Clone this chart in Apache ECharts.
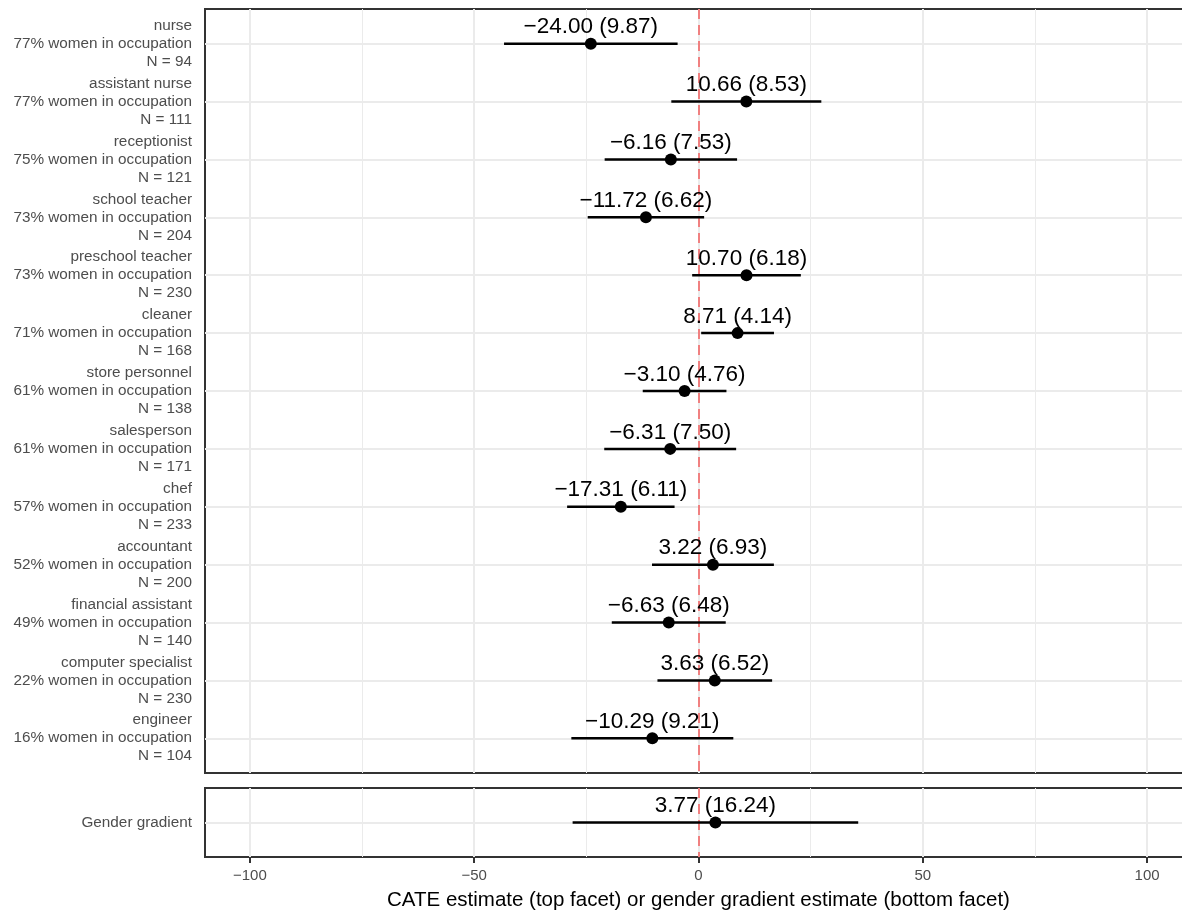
<!DOCTYPE html>
<html>
<head>
<meta charset="utf-8">
<script src="https://cdn.jsdelivr.net/npm/echarts@6/dist/echarts.min.js"></script>
<style>
  html, body { margin: 0; padding: 0; background: #ffffff; }
  #chart { width: 1182px; height: 914px; }
</style>
</head>
<body>
<div id="chart"></div>
<script>
// Occupation-level CATE estimates with standard errors (top facet)
const occupations = [
  'nurse', 'assistant nurse', 'receptionist', 'school teacher', 'preschool teacher',
  'cleaner', 'store personnel', 'salesperson', 'chef', 'accountant',
  'financial assistant', 'computer specialist', 'engineer'
];
const womenShare = [77, 77, 75, 73, 73, 71, 61, 61, 57, 52, 49, 22, 16];
const sampleSizes = [94, 111, 121, 204, 230, 168, 138, 171, 233, 200, 140, 230, 104];
const cateEstimates = [-24.00, 10.66, -6.16, -11.72, 10.70, 8.71, -3.10, -6.31, -17.31, 3.22, -6.63, 3.63, -10.29];
const cateStdErrors = [9.87, 8.53, 7.53, 6.62, 6.18, 4.14, 4.76, 7.50, 6.11, 6.93, 6.48, 6.52, 9.21];

// Gender gradient estimate (bottom facet)
const gradientLabels = ['Gender gradient'];
const gradientEstimates = [3.77];
const gradientStdErrors = [16.24];

// x-axis breaks
const xTickValues = [-100, -50, 0, 50, 100];
const xMinorValues = [-75, -25, 25, 75];
const xTitle = 'CATE estimate (top facet) or gender gradient estimate (bottom facet)';

const Z95 = 1.96;
const FONT = '"Liberation Sans", Arial, Helvetica, sans-serif';
const fmt = v => v.toFixed(2).replace('-', '\u2212');

const topRows = occupations.map((_, i) => i + 1);
const bottomRows = gradientLabels.map((_, i) => i + 1);

function gridLines(rows) {
  const items = [];
  rows.forEach(r => items.push({ yAxis: r, lineStyle: { color: '#EBEBEB', width: 2, type: 'solid' } }));
  xMinorValues.forEach(v => items.push({ xAxis: v, lineStyle: { color: '#EBEBEB', width: 1, type: 'solid' } }));
  xTickValues.forEach(v => items.push({ xAxis: v, lineStyle: { color: '#EBEBEB', width: 2, type: 'solid' } }));
  // reference line at zero
  items.push({ xAxis: 0, lineStyle: { color: '#F08080', width: 2, type: [10, 6] } });
  return items;
}

function panelSeries(gi, estimates, stdErrors, rows) {
  return [
    {
      type: 'line', xAxisIndex: gi, yAxisIndex: gi, data: [], z: 1, silent: true,
      markLine: { z: 1, silent: true, symbol: ['none', 'none'], label: { show: false }, animation: false, data: gridLines(rows) }
    },
    {
      type: 'custom', xAxisIndex: gi, yAxisIndex: gi, z: 3, silent: true,
      data: estimates.map((e, i) => [e - Z95 * stdErrors[i], e + Z95 * stdErrors[i], rows[i]]),
      renderItem: (params, api) => {
        const a = api.coord([api.value(0), api.value(2)]);
        const b = api.coord([api.value(1), api.value(2)]);
        return { type: 'line', shape: { x1: a[0], y1: a[1], x2: b[0], y2: b[1] }, style: { stroke: '#000000', lineWidth: 2.5 } };
      }
    },
    {
      type: 'scatter', xAxisIndex: gi, yAxisIndex: gi, z: 4, silent: true,
      symbol: 'circle', symbolSize: 12, itemStyle: { color: '#000000', opacity: 1 },
      data: estimates.map((e, i) => [e, rows[i]]),
      label: {
        show: true, position: 'top', distance: -1,
        fontFamily: FONT, fontSize: 22.5, color: '#000000',
        formatter: p => fmt(estimates[p.dataIndex]) + ' (' + stdErrors[p.dataIndex].toFixed(2) + ')'
      }
    }
  ];
}

function yAxis(gi, rows, labelFn) {
  return {
    type: 'value', gridIndex: gi, inverse: true, min: 0.4, max: rows.length + 0.6,
    axisLine: { show: false }, splitLine: { show: false },
    axisTick: { show: true, customValues: rows, length: 6, lineStyle: { color: '#333333', width: 2 } },
    axisLabel: {
      show: true, customValues: rows, formatter: labelFn,
      color: '#4D4D4D', fontFamily: FONT, fontSize: 15.3, lineHeight: 18, margin: 13, align: 'right'
    }
  };
}

// the panels run past the right edge of the canvas (symmetric ±110 range)
const panelBase = {
  left: 205, width: 987, show: true, borderColor: '#333333', borderWidth: 2,
  backgroundColor: '#ffffff', containLabel: false, outerBoundsMode: 'none'
};

const chart = echarts.init(document.getElementById('chart'), null, { renderer: 'canvas' });
chart.setOption({
  animation: false,
  backgroundColor: '#ffffff',
  grid: [
    Object.assign({}, panelBase, { top: 9, height: 764 }),
    Object.assign({}, panelBase, { top: 788, height: 69 })
  ],
  xAxis: [
    {
      type: 'value', gridIndex: 0, min: -110, max: 110,
      axisLine: { show: false }, axisTick: { show: false }, axisLabel: { show: false }, splitLine: { show: false }
    },
    {
      type: 'value', gridIndex: 1, min: -110, max: 110,
      axisLine: { show: false }, splitLine: { show: false },
      axisTick: { show: true, customValues: xTickValues, length: 6, lineStyle: { color: '#333333', width: 2 } },
      axisLabel: {
        show: true, customValues: xTickValues, formatter: v => String(v).replace('-', '\u2212'),
        color: '#4D4D4D', fontFamily: FONT, fontSize: 15, margin: 11
      },
      name: xTitle, nameLocation: 'middle', nameGap: 33,
      nameTextStyle: { color: '#000000', fontFamily: FONT, fontSize: 20.5 }
    }
  ],
  yAxis: [
    yAxis(0, topRows, v => {
      const i = Math.round(v) - 1;
      return occupations[i] + '\n' + womenShare[i] + '% women in occupation\nN = ' + sampleSizes[i];
    }),
    yAxis(1, bottomRows, v => gradientLabels[Math.round(v) - 1])
  ],
  series: [
    ...panelSeries(0, cateEstimates, cateStdErrors, topRows),
    ...panelSeries(1, gradientEstimates, gradientStdErrors, bottomRows)
  ]
});
</script>
</body>
</html>
